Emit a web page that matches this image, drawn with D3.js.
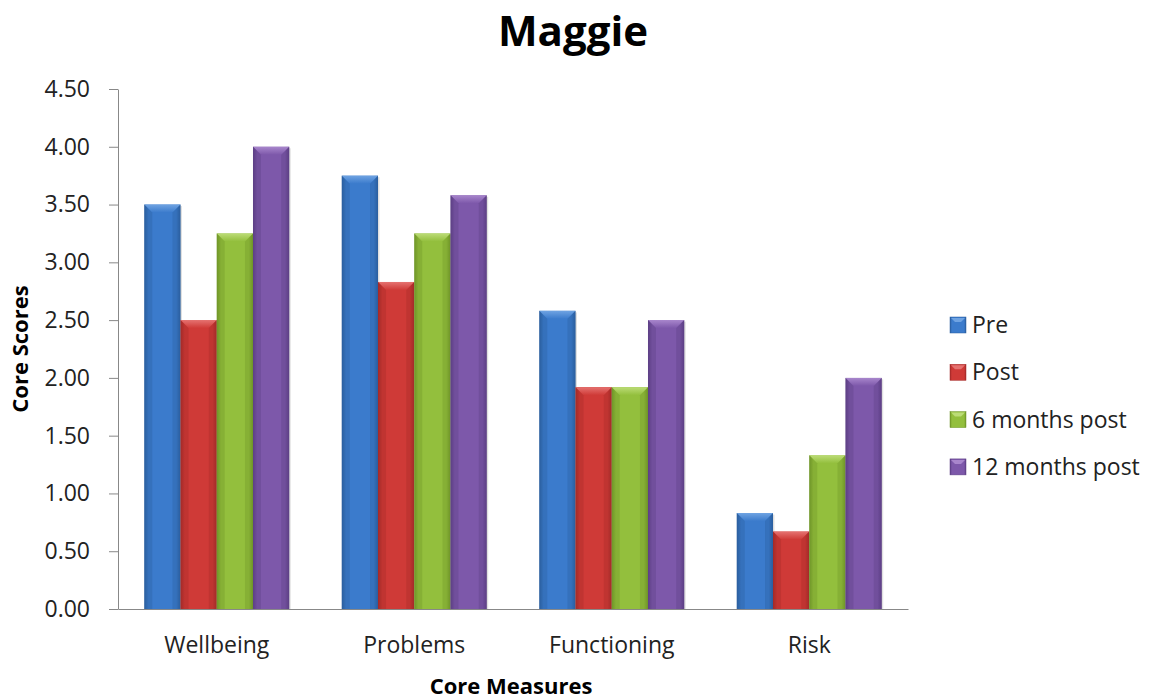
<!DOCTYPE html>
<html><head><meta charset="utf-8">
<script src="https://cdn.jsdelivr.net/npm/d3@7"></script>
<style>body{margin:0;background:#fff}svg{display:block}text{font-family:"Open Sans",Lato,sans-serif}</style>
</head><body><svg id="c" width="1154" height="700"></svg>
<script>
const categories = ["Wellbeing","Problems","Functioning","Risk"];
const seriesNames = ["Pre","Post","6 months post","12 months post"];
const pre = [3.50, 3.75, 2.58, 0.83];
const post = [2.50, 2.83, 1.92, 0.67];
const sixMonths = [3.25, 3.25, 1.92, 1.33];
const twelveMonths = [4.00, 3.58, 2.50, 2.00];
const yTicks = [0,0.5,1,1.5,2,2.5,3,3.5,4,4.5];
const seriesValues = [pre, post, sixMonths, twelveMonths];
const colors = [
  {base:"#3b7bcc", dark:"#2a5e9e", light:"#6fa3e2"},
  {base:"#cf3a37", dark:"#a32a28", light:"#e57270"},
  {base:"#93bf3d", dark:"#6f9528", light:"#bcdc77"},
  {base:"#7d58aa", dark:"#5d3f85", light:"#a886cc"}
];

const svg = d3.select("#c");
const defs = svg.append("defs");
colors.forEach((c,i)=>{
  const g = defs.append("linearGradient").attr("id","g"+i).attr("x1","0").attr("x2","1").attr("y1","0").attr("y2","0");
  g.append("stop").attr("offset","0").attr("stop-color",c.dark);
  g.append("stop").attr("offset","0.12").attr("stop-color",c.base);
  g.append("stop").attr("offset","0.5").attr("stop-color",c.base);
  g.append("stop").attr("offset","0.88").attr("stop-color",c.base);
  g.append("stop").attr("offset","1").attr("stop-color",c.dark);
  const t = defs.append("linearGradient").attr("id","t"+i).attr("x1","0").attr("x2","0").attr("y1","0").attr("y2","1");
  t.append("stop").attr("offset","0").attr("stop-color",c.light);
  t.append("stop").attr("offset","1").attr("stop-color",c.base);
});

const mLeft = 118, mRight = 908, mTop = 89, mBottom = 609;
const y = d3.scaleLinear().domain([0,4.5]).range([mBottom, mTop]);
const x0 = d3.scaleBand().domain(categories).range([mLeft,mRight]).padding(0);
const gap = x0.bandwidth()*0.133;
const x1 = d3.scaleBand().domain(seriesNames).range([gap, x0.bandwidth()-gap]).padding(0);

// title
svg.append("text").attr("x",573).attr("y",46).attr("text-anchor","middle")
  .attr("font-size",42).attr("font-weight","bold").attr("fill","#000").text("Maggie");

// y axis
const yAxis = d3.axisLeft(y).tickValues(yTicks).tickFormat(d3.format(".2f")).tickSize(9).tickSizeOuter(0);
const ya = svg.append("g").attr("transform",`translate(${mLeft},0)`).call(yAxis);
ya.select(".domain").attr("stroke","#888");
ya.selectAll(".tick line").attr("stroke","#888");
ya.selectAll(".tick text").attr("font-size",23).attr("fill","#222").attr("x",-28)
  .attr("font-family","'Open Sans',sans-serif");

// bars
const groups = svg.append("g").selectAll("g").data(categories).join("g")
  .attr("transform",d=>`translate(${x0(d)},0)`);
seriesNames.forEach((s,si)=>{
  const w = x1.bandwidth();
  groups.each(function(cat,ci){
    const v = seriesValues[si][ci];
    const g = d3.select(this);
    const bx = x1(s), by = y(v), bh = y(0)-y(v);
    g.append("rect").attr("x",bx+1.5).attr("y",by+1.5).attr("width",w).attr("height",bh-1.5)
      .attr("fill","#000").attr("opacity",0.12);
    g.append("rect").attr("x",bx).attr("y",by).attr("width",w).attr("height",bh).attr("fill",`url(#g${si})`);
    const b = Math.min(8, bh/2);
    g.append("path").attr("d",`M${bx},${by}L${bx+w},${by}L${bx+w-b},${by+b}L${bx+b},${by+b}Z`)
      .attr("fill",`url(#t${si})`);
    g.append("path").attr("d",`M${bx},${by}L${bx+b},${by+b}L${bx+b},${by+bh}L${bx},${by+bh}Z`)
      .attr("fill",colors[si].dark).attr("opacity",0.35);
    g.append("path").attr("d",`M${bx+w},${by}L${bx+w-b},${by+b}L${bx+w-b},${by+bh}L${bx+w},${by+bh}Z`)
      .attr("fill",colors[si].dark).attr("opacity",0.35);
  });
});

// x axis
const xAxis = d3.axisBottom(x0).tickSize(0);
const xa = svg.append("g").attr("transform",`translate(0,${mBottom})`).call(xAxis);
xa.select(".domain").attr("stroke","#888");
xa.selectAll(".tick text").attr("font-size",23).attr("fill","#222").attr("dy","0").attr("y",44)
  .attr("font-family","'Open Sans',sans-serif");

// axis titles
svg.append("text").attr("x",511).attr("y",694).attr("text-anchor","middle")
  .attr("font-size",22).attr("font-weight","bold").text("Core Measures");
svg.append("text").attr("transform","translate(28,349) rotate(-90)").attr("text-anchor","middle")
  .attr("font-size",22).attr("font-weight","bold").text("Core Scores");

// legend
const leg = svg.append("g").selectAll("g").data(seriesNames).join("g")
  .attr("transform",(d,i)=>`translate(950,${325+i*47.3})`);
leg.append("rect").attr("x",0).attr("y",-8).attr("width",16).attr("height",16)
  .attr("fill",(d,i)=>`url(#g${i})`).attr("stroke",(d,i)=>colors[i].dark).attr("stroke-width",0.5);
leg.append("path").attr("d","M1,-7L15,-7L11,-3L5,-3Z").attr("fill",(d,i)=>colors[i].light);
leg.append("text").attr("x",22).attr("y",8).attr("font-size",23).attr("fill","#222").text(d=>d);
</script></body></html>
